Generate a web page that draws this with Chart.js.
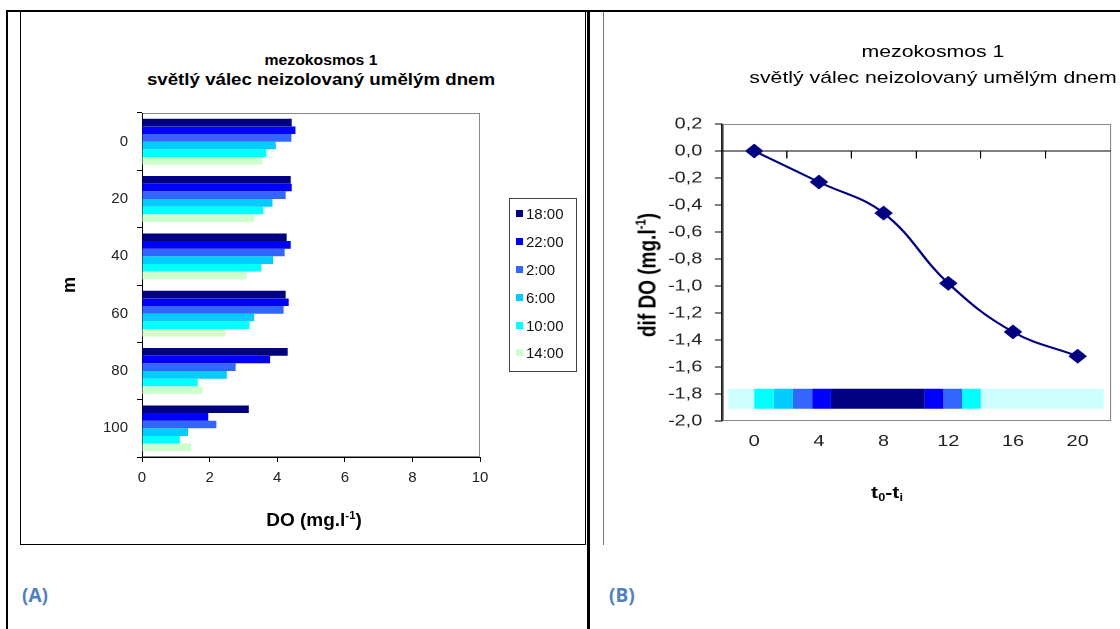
<!DOCTYPE html>
<html lang="cs">
<head>
<meta charset="utf-8">
<title>mezokosmos 1</title>
<script src="https://cdn.jsdelivr.net/npm/chart.js@4.4.1/dist/chart.umd.min.js"></script>
<style>
  html, body { margin: 0; padding: 0; background: #fff; }
  body { width: 1120px; height: 629px; position: relative; overflow: hidden; font-family: Arial, "Liberation Sans", sans-serif; }
  .cara { position: absolute; background: #000; }
  .text { position: absolute; color: #000; white-space: nowrap; text-align: center; }
  .tucne { font-weight: bold; }
  sup { font-size: 0.6em; vertical-align: 0.65em; line-height: 0; }
  sub { font-size: 0.6em; vertical-align: -0.3em; line-height: 0; }
  .stitek { position: absolute; top: 582px; font-family: "Open Sans", sans-serif; font-weight: bold; font-size: 19px; color: #4F81BD; }
  #legendaA { position: absolute; left: 509px; top: 198px; width: 68px; height: 174px; border: 1px solid #444; box-sizing: border-box; padding-top: 1px; }
  .leg-polozka { height: 27.8px; display: flex; align-items: center; font-size: 15px; color: #111; }
  .leg-barva { width: 7px; height: 7px; margin: 0 3px 0 6px; flex: none; }
  canvas { position: absolute; }
  #obalB { position: absolute; left: 605px; top: 12px; width: 412px; height: 533px; transform: scaleX(1.25); transform-origin: 0 0; }
</style>
</head>
<body>
<div class="cara" style="left:6px; top:10px; width:1114px; height:2px;"></div>
<div class="cara" style="left:6px; top:10px; width:2px; height:619px;"></div>
<div class="cara" style="left:587px; top:10px; width:3px; height:619px;"></div>
<div style="position:absolute; left:20px; top:11px; width:566px; height:534px; border:1px solid #000; border-top:none; box-sizing:border-box;"></div>
<div style="position:absolute; left:603px; top:12px; width:1px; height:533px; background:#777;"></div>

<div class="text tucne" style="left:121px; width:400px; top:50px; font-size:15px; line-height:20px; transform:scaleX(1.05);">mezokosmos 1</div>
<div class="text tucne" style="left:121px; width:400px; top:70px; font-size:17px; line-height:20px; transform:scaleX(1.1);">světlý válec neizolovaný umělým dnem</div>

<canvas id="grafA" width="565" height="533" style="left:21px; top:12px;"></canvas>
<div id="legendaA"></div>
<div class="text tucne" style="left:214px; width:200px; top:508px; font-size:19px; line-height:24px;">DO (mg.l<sup>-1</sup>)</div>

<div id="obalB">
  <div class="text" style="left:62.4px; width:400px; top:29px; font-size:17px; line-height:22px;">mezokosmos 1</div>
  <div class="text" style="left:62.4px; width:400px; top:55px; font-size:17px; line-height:22px;">světlý válec neizolovaný umělým dnem</div>
  <canvas id="grafB" width="412" height="533" style="left:0; top:0;"></canvas>
  <div class="text tucne" style="left:125.6px; width:200px; top:470px; font-size:17px; line-height:22px;">t<sub>0</sub>-t<sub>i</sub></div>
  <div class="text tucne" style="left:34.4px; top:263px; font-size:19px; line-height:24px; transform:translate(-50%, -50%) rotate(-90deg);">dif DO (mg.l<sup>-1</sup>)</div>
</div>

<div class="stitek" style="left:22px;">(A)</div>
<div class="stitek" style="left:609px;">(B)</div>

<script>
// graf A: hloubkovy profil DO
const hloubky = ['0', '20', '40', '60', '80', '100'];
const casy = ['18:00', '22:00', '2:00', '6:00', '10:00', '14:00'];
const barvyCasu = ['#000080', '#0000FF', '#3366FF', '#00CCFF', '#00FFFF', '#CCFFCC'];
const do1800 = [4.43, 4.40, 4.28, 4.25, 4.31, 3.16];
const do2200 = [4.54, 4.43, 4.40, 4.34, 3.79, 1.96];
const do0200 = [4.42, 4.25, 4.22, 4.19, 2.77, 2.20];
const do0600 = [3.96, 3.86, 3.88, 3.32, 2.51, 1.36];
const do1000 = [3.68, 3.59, 3.53, 3.18, 1.65, 1.12];
const do1400 = [3.56, 3.32, 3.10, 2.47, 1.79, 1.45];
const doTicks = [0, 2, 4, 6, 8, 10];

// graf B: rozdil DO v case
const casOdStartu = [0, 4, 8, 12, 16, 20];
const difDO = [0, -0.23, -0.46, -0.98, -1.34, -1.52];
const casTicks = [0, 4, 8, 12, 16, 20];
const nulaTicks = [2, 6, 10, 14, 18];
const pasHranice = [-1.6, 0, 1.2, 2.4, 3.6, 4.75, 10.55, 11.7, 12.85, 14, 21.6];
const pasBarvy = ['#CCFFFF', '#00FFFF', '#00CCFF', '#3366FF', '#0000FF', '#000080', '#0000FF', '#3366FF', '#00FFFF', '#CCFFFF'];
const pasHodnota = -1.835;

Chart.defaults.font.family = 'Arial, "Liberation Sans", sans-serif';
Chart.defaults.color = '#222';

const ramecekPlochy = {
  id: 'ramecekPlochy',
  beforeDraw(chart) {
    const { ctx, chartArea: a } = chart;
    ctx.save();
    ctx.strokeStyle = '#888';
    ctx.lineWidth = 1;
    ctx.strokeRect(Math.round(a.left) + 0.5, Math.round(a.top) + 0.5, Math.round(a.width) - 1, Math.round(a.height) - 1);
    ctx.restore();
  }
};

const serieA = [do1800, do2200, do0200, do0600, do1000, do1400];

new Chart(document.getElementById('grafA'), {
  type: 'bar',
  data: {
    labels: hloubky,
    datasets: serieA.map((hodnoty, i) => ({
      label: casy[i],
      data: hodnoty,
      backgroundColor: barvyCasu[i],
      borderWidth: 0,
      categoryPercentage: 0.8,
      barPercentage: 1
    }))
  },
  options: {
    indexAxis: 'y',
    responsive: false,
    animation: false,
    layout: { padding: { left: 0, right: 106, top: 101, bottom: 0 } },
    scales: {
      x: {
        type: 'linear',
        min: 0,
        max: 10,
        afterBuildTicks(scale) { scale.ticks = doTicks.map(v => ({ value: v })); },
        afterFit(scale) { scale.height = 88; },
        grid: { drawOnChartArea: false, tickLength: 5, color: '#000' },
        border: { color: '#000' },
        ticks: { font: { size: 15 }, padding: 7 }
      },
      y: {
        afterFit(scale) { scale.width = 121; },
        grid: { drawOnChartArea: false, tickLength: 5, color: '#000', offset: true },
        border: { color: '#000' },
        ticks: { font: { size: 15 }, padding: 9 },
        title: { display: true, text: 'm', color: '#000', font: { size: 18, weight: 'bold' }, padding: { top: 38, bottom: 0 } }
      }
    },
    plugins: { legend: { display: false }, tooltip: { enabled: false } }
  },
  plugins: [ramecekPlochy]
});

const legenda = document.getElementById('legendaA');
legenda.innerHTML = casy.map((cas, i) => `
  <div class="leg-polozka"><span class="leg-barva" style="background:${barvyCasu[i]}"></span>${cas}</div>`).join('');

const pasy = pasBarvy.map((barva, i) => ({
  label: 'pas' + i,
  data: [{ x: pasHranice[i], y: pasHodnota }, { x: pasHranice[i + 1], y: pasHodnota }],
  borderColor: barva,
  borderWidth: 20,
  borderCapStyle: 'butt',
  pointRadius: 0,
  tension: 0
}));

new Chart(document.getElementById('grafB'), {
  type: 'line',
  data: {
    datasets: [
      ...pasy,
      {
        label: 'dif DO',
        data: casOdStartu.map((t, i) => ({ x: t, y: difDO[i] })),
        borderColor: '#000080',
        borderWidth: 2,
        tension: 0.4,
        pointStyle: 'rectRot',
        pointRadius: 6,
        pointBackgroundColor: '#000080',
        pointBorderColor: '#000080'
      }
    ]
  },
  options: {
    responsive: false,
    animation: false,
    devicePixelRatio: 2,
    layout: { padding: { left: 0, right: 1, top: 112, bottom: 0 } },
    scales: {
      x: {
        type: 'linear',
        min: -2,
        max: 22,
        afterBuildTicks(scale) { scale.ticks = casTicks.map(v => ({ value: v })); },
        afterFit(scale) { scale.height = 124; },
        grid: { display: false, drawTicks: false },
        border: { display: false },
        ticks: { font: { size: 16 }, padding: 11 }
      },
      x0: {
        type: 'linear',
        axis: 'x',
        position: { y: 0 },
        min: -2,
        max: 22,
        afterBuildTicks(scale) { scale.ticks = nulaTicks.map(v => ({ value: v })); },
        grid: { drawOnChartArea: false, tickLength: 7, color: '#000' },
        border: { color: '#000' },
        ticks: { display: false }
      },
      y: {
        min: -2,
        max: 0.2,
        afterFit(scale) { scale.width = 93.5; },
        grid: { drawOnChartArea: false, tickLength: 5.6, color: '#000' },
        border: { color: '#000' },
        ticks: {
          stepSize: 0.2,
          font: { size: 16 },
          padding: 10,
          callback(v) {
            const r = Math.round(v * 10) / 10;
            return (r === 0 ? 0 : r).toFixed(1).replace('.', ',');
          }
        }
      }
    },
    plugins: { legend: { display: false }, tooltip: { enabled: false } }
  },
  plugins: [ramecekPlochy]
});
</script>
</body>
</html>
